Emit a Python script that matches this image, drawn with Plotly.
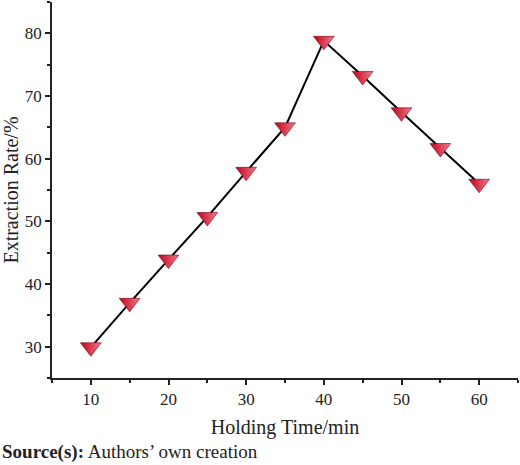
import plotly.graph_objects as go

# holding time (min) vs extraction rate (%)
holding_time = [10, 15, 20, 25, 30, 35, 40, 45, 50, 55, 60]
extraction_rate = [29.9, 37.0, 43.9, 50.7, 57.9, 65.0, 78.8, 73.2, 67.4, 61.7, 56.0]

x_ticks = [10, 20, 30, 40, 50, 60]
y_ticks = [30, 40, 50, 60, 70, 80]

fig = go.Figure()
fig.add_trace(go.Scatter(
    x=holding_time,
    y=extraction_rate,
    mode='lines+markers',
    line=dict(color='black', width=2),
    marker=dict(symbol='triangle-down', size=18, color='#c0001c',
                line=dict(color='#80000e', width=0.6),
                gradient=dict(type='horizontal', color='#ee7c8c')),
    showlegend=False
))

axis_font = dict(family='Liberation Serif', size=17, color='#222')
title_font = dict(family='Liberation Serif', size=20, color='#222')

fig.update_xaxes(
    range=[5, 65], tickvals=x_ticks, automargin=False,
    showline=True, linecolor='#222', linewidth=1.5,
    ticks='outside', ticklen=5, tickwidth=1.5, tickcolor='#222',
    minor=dict(dtick=5, ticks='outside', ticklen=3, tickwidth=1.5, tickcolor='#222', tick0=5),
    showgrid=False, zeroline=False, tickfont=axis_font,
    title=dict(text='Holding Time/min', font=title_font, standoff=12)
)
fig.update_yaxes(
    range=[25, 85], tickvals=y_ticks, automargin=False,
    showline=True, linecolor='#222', linewidth=1.5,
    ticks='outside', ticklen=5, tickwidth=1.5, tickcolor='#222',
    minor=dict(dtick=5, ticks='outside', ticklen=3, tickwidth=1.5, tickcolor='#222', tick0=25),
    showgrid=False, zeroline=False, tickfont=axis_font,
    title=dict(text='Extraction Rate/%', font=title_font, standoff=6)
)

fig.add_annotation(
    text='<b>Source(s):</b> Authors\u2019 own creation',
    xref='paper', yref='paper', x=-52 / 466, y=-0.197,
    xanchor='left', yanchor='middle', showarrow=False,
    font=dict(family='Liberation Serif', size=19, color='#222')
)

fig.update_layout(
    width=520, height=465,
    margin=dict(l=52, r=2, t=2, b=87),
    plot_bgcolor='white', paper_bgcolor='white'
)

# drop the default page margin so the figure sits at the window corner
fig.write_html('out.html', config={'displayModeBar': False},
               post_script="document.body.style.margin='0';")
